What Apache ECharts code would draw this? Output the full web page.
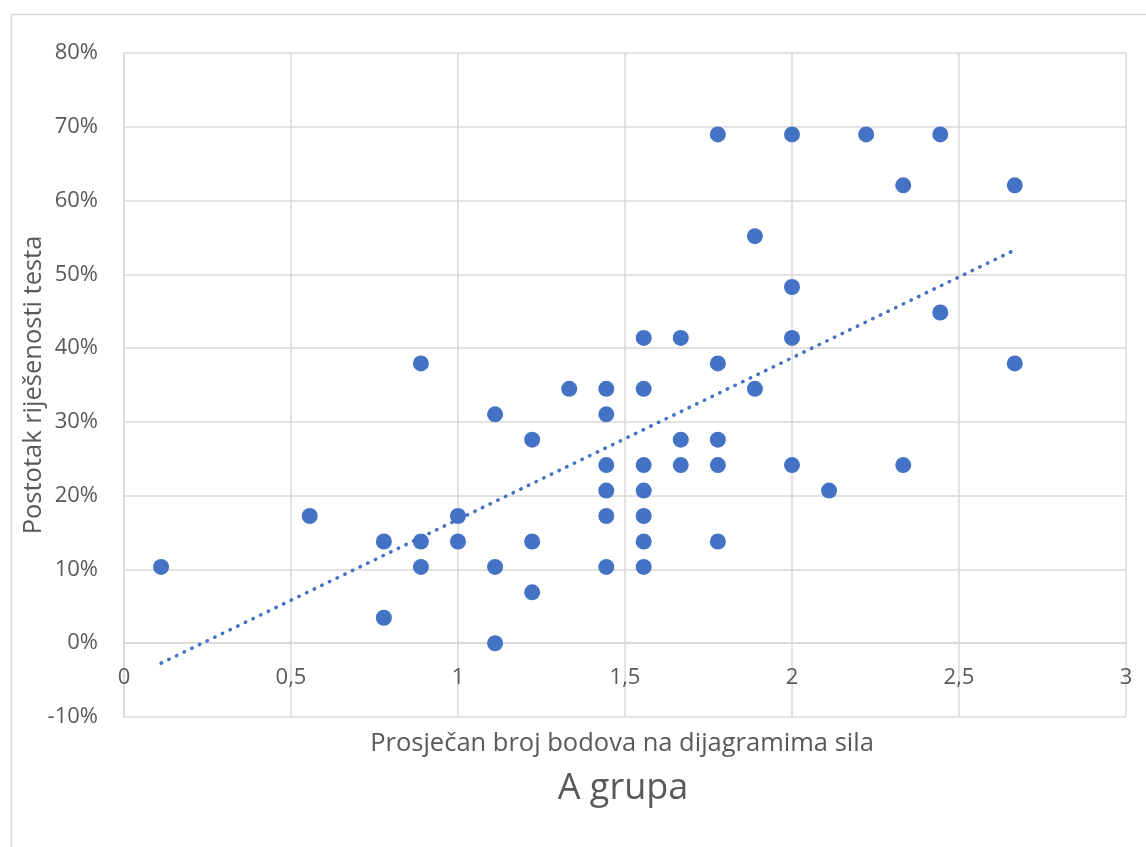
<!DOCTYPE html>
<html>
<head>
<meta charset="utf-8">
<script src="https://cdn.jsdelivr.net/npm/echarts@6/dist/echarts.min.js"></script>
<style>
html,body{margin:0;padding:0;background:#fff;}
#chart{width:1146px;height:847px;}
</style>
</head>
<body>
<div id="chart"></div>
<script>
// Data
const pointsX = [0.111,0.556,0.778,0.778,0.889,0.889,0.889,1,1,1.111,1.111,1.111,1.222,1.222,1.222,1.333,
  1.444,1.444,1.444,1.444,1.444,1.444,1.556,1.556,1.556,1.556,1.556,1.556,1.556,1.667,1.667,1.667,
  1.778,1.778,1.778,1.778,1.778,1.889,1.889,2,2,2,2,2.111,2.222,2.333,2.333,2.444,2.444,2.667,2.667];
const pointsY = [0.1034,0.1724,0.1379,0.0345,0.3793,0.1379,0.1034,0.1724,0.1379,0.3103,0.1034,0,0.2759,0.1379,0.069,0.3448,
  0.3448,0.3103,0.2414,0.2069,0.1724,0.1034,0.4138,0.3448,0.2414,0.2069,0.1724,0.1379,0.1034,0.4138,0.2759,0.2414,
  0.6897,0.3793,0.2759,0.2414,0.1379,0.5517,0.3448,0.6897,0.4828,0.4138,0.2414,0.2069,0.6897,0.6207,0.2414,0.6897,0.4483,0.6207,0.3793];
const trendX = [0.111, 2.667];
const trendY = [-0.027, 0.533];
const titleText = 'A grupa';
const xAxisTitle = 'Prosječan broj bodova na dijagramima sila';
const yAxisTitle = 'Postotak riješenosti testa';

const FONT = 'Open Sans';
const TXT = '#595959';
const GRID = '#d9d9d9';

const chart = echarts.init(document.getElementById('chart'));
chart.setOption({
  animation: false,
  backgroundColor: '#fff',
  grid: {left: 124, top: 53, width: 1002, height: 664, containLabel: false},
  xAxis: {
    type: 'value', min: 0, max: 3, interval: 0.5,
    offset: -73.8,
    axisLine: {show: true, onZero: false, lineStyle: {color: GRID, width: 1.5}},
    axisTick: {show: false},
    splitLine: {show: true, lineStyle: {color: GRID, width: 1.5}},
    axisLabel: {
      color: TXT, fontFamily: FONT, fontSize: 22, margin: 24,
      formatter: v => String(v).replace('.', ',')
    }
  },
  yAxis: {
    type: 'value', min: -0.1, max: 0.8, interval: 0.1,
    axisLine: {show: true, lineStyle: {color: GRID, width: 1.5}},
    axisTick: {show: false},
    splitLine: {show: true, lineStyle: {color: GRID, width: 1.5}},
    axisLabel: {
      color: TXT, fontFamily: FONT, fontSize: 22, margin: 26,
      formatter: v => Math.round(v * 100) + '%'
    }
  },
  graphic: [
    {type: 'rect', left: 9, top: 12, shape: {width: 1150, height: 850}, style: {fill: 'none', stroke: GRID, lineWidth: 1.5}, z: -10},
    {type: 'text', x: 34, y: 385, rotation: Math.PI / 2, style: {text: yAxisTitle, fill: TXT, font: '25.5px "Open Sans"', align: 'center', verticalAlign: 'middle'}},
    {type: 'text', x: 622, y: 731, style: {text: xAxisTitle, fill: TXT, font: '25.5px "Open Sans"', align: 'center', verticalAlign: 'top'}},
    {type: 'text', x: 623, y: 771, style: {text: titleText, fill: TXT, font: '36px "Open Sans"', align: 'center', verticalAlign: 'top'}}
  ],
  series: [
    {
      type: 'scatter', symbol: 'circle', symbolSize: 16,
      itemStyle: {color: '#4472C4', opacity: 1},
      data: pointsX.map((x, i) => [x, pointsY[i]]), z: 3
    },
    {
      type: 'line', symbol: 'none', z: 2,
      lineStyle: {color: '#4472C4', width: 3.5, type: [0.5, 8], cap: 'round'},
      data: trendX.map((x, i) => [x, trendY[i]])
    }
  ]
});
</script>
</body>
</html>
